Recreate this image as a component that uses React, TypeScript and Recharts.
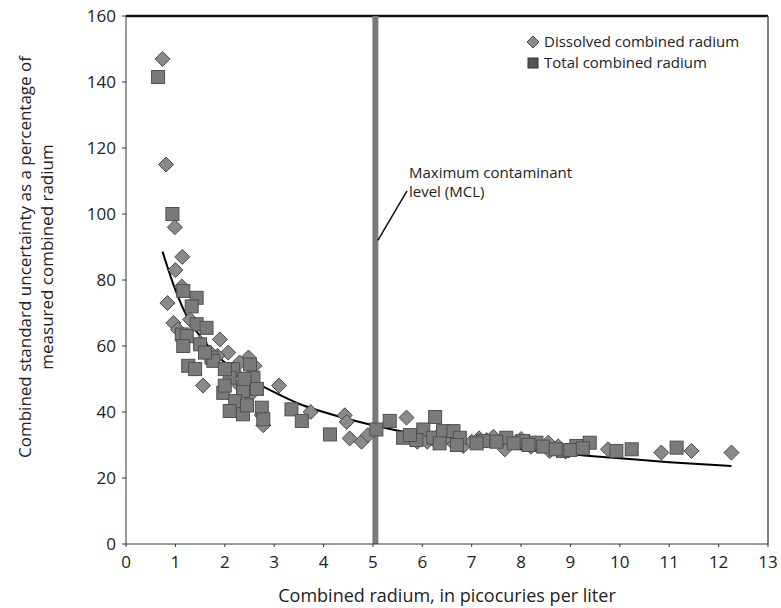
import React from 'react';
import {
  ComposedChart,
  Scatter,
  Line,
  XAxis,
  YAxis,
  ReferenceLine,
  ReferenceDot,
} from 'recharts';

// [combined radium pCi/L, uncertainty %]
const dissolvedPoints: [number, number][] = [
  [0.74, 147], [0.81, 115], [0.99, 96], [1.14, 87], [1.0, 83], [1.13, 78],
  [0.84, 73], [0.96, 67], [1.05, 65], [1.2, 62], [1.5, 61], [1.9, 62],
  [1.7, 58], [2.07, 58], [1.56, 48], [2.2, 52], [2.48, 56.5], [2.6, 54],
  [2.3, 48], [2.5, 45], [3.1, 48], [2.78, 36], [2.75, 39], [3.74, 40],
  [4.43, 39], [4.47, 37], [4.53, 32], [4.77, 31], [4.9, 33], [5.68, 38.3],
  [5.9, 31], [6.2, 32], [6.4, 34], [6.6, 31], [6.83, 29.7], [7.0, 31],
  [7.3, 31.5], [7.44, 32.5], [7.67, 28.7], [7.9, 31], [8.3, 30.5], [8.55, 30.7],
  [8.58, 28.2], [8.9, 28], [9.76, 28.7], [10.84, 27.7], [11.45, 28.2], [12.26, 27.7],
  [1.3, 68], [1.85, 57], [2.3, 55], [6.1, 31], [6.5, 32.5], [7.15, 32],
  [7.6, 31.5], [8.0, 31.8], [8.2, 29.5], [8.75, 29.6],
];

const totalPoints: [number, number][] = [
  [0.65, 141.5], [0.94, 100], [1.16, 76.7], [1.43, 74.6], [1.33, 72], [1.43, 66.6],
  [1.63, 65.5], [1.13, 63.5], [1.23, 63], [1.5, 60.5], [1.16, 60], [1.73, 56.5],
  [1.77, 55.5], [1.26, 54], [1.4, 53], [2.17, 53], [2.51, 54.4], [2.1, 50.4],
  [2.58, 50.4], [1.97, 45.8], [2.37, 46.4], [2.21, 43.3], [2.1, 40.3], [2.37, 39.3],
  [2.75, 41.3], [2.78, 37.8], [2.4, 50], [3.35, 40.8], [3.56, 37.3], [4.13, 33.2],
  [5.07, 34.7], [5.34, 37.3], [5.61, 32.2], [6.02, 34.7], [6.26, 38.5], [5.88, 31.5],
  [6.22, 32.2], [6.42, 34.2], [6.63, 34.2], [6.76, 32.2], [7.23, 31.2], [7.7, 32.2],
  [8.04, 31.2], [8.31, 30.7], [8.85, 28.2], [9.12, 29.7], [9.39, 30.7], [9.93, 28.2],
  [10.24, 28.7], [11.15, 29.2],
  [1.6, 58], [2.0, 48], [2.65, 47], [2.0, 53], [2.45, 42], [5.75, 33],
  [6.35, 30.5], [6.7, 30], [7.1, 30.5], [7.5, 31], [7.85, 30.5], [8.15, 30],
  [8.45, 29.5], [8.7, 28.7], [9.0, 28.5], [9.25, 29],
];

// trend curve
const fitPoints: [number, number][] = [
  [0.74, 88.6], [1, 77], [1.25, 68.5], [1.5, 63], [2, 55], [2.5, 50], [3, 46],
  [3.5, 42.5], [4, 40], [5, 36], [6, 33], [7, 30.5], [8, 28.7], [9, 27.2],
  [10, 26], [11, 24.8], [12.26, 23.6],
];

const xTicks = [0, 1, 2, 3, 4, 5, 6, 7, 8, 9, 10, 11, 12, 13];
const yTicks = [0, 20, 40, 60, 80, 100, 120, 140, 160];
const mclValue = 5.05;

const toRows = (pts: [number, number][]) => pts.map(([x, y]) => ({ x, y }));

const FONT = '"Open Sans", "Noto Sans", sans-serif';

const DiamondMark = (props: any) => {
  const { cx, cy } = props;
  const r = 7.5;
  return (
    <polygon
      points={`${cx},${cy - r} ${cx + r},${cy} ${cx},${cy + r} ${cx - r},${cy}`}
      fill='#8a8a8a'
      stroke='#4a4a4a'
      strokeWidth={1}
    />
  );
};

const SquareMark = (props: any) => {
  const { cx, cy } = props;
  return (
    <rect x={cx - 6.5} y={cy - 6.5} width={13} height={13} fill='#7a7a7a' stroke='#505050' strokeWidth={1} />
  );
};

const LegendBox = () => (
  <div
    style={{
      position: 'absolute',
      left: 526,
      top: 31,
      fontFamily: FONT,
      fontSize: 15,
      color: '#222',
      lineHeight: '21px',
    }}
  >
    <div style={{ display: 'flex', alignItems: 'center' }}>
      <svg width={14} height={14} style={{ marginRight: 4 }}>
        <polygon points='7,1 13,7 7,13 1,7' fill='#8a8a8a' stroke='#4a4a4a' />
      </svg>
      Dissolved combined radium
    </div>
    <div style={{ display: 'flex', alignItems: 'center' }}>
      <svg width={14} height={14} style={{ marginRight: 4 }}>
        <rect x={2} y={2} width={10} height={10} fill='#555' stroke='#333' />
      </svg>
      Total combined radium
    </div>
  </div>
);

const McLNote = (props: any) => {
  const { cx, cy } = props;
  return (
    <g>
      <text x={cx} y={cy} fontFamily={FONT} fontSize={15} fill='#222'>
        Maximum contaminant
      </text>
      <text x={cx} y={cy + 19} fontFamily={FONT} fontSize={15} fill='#222'>
        level (MCL)
      </text>
    </g>
  );
};

const YTitle = () => (
  <g>
    <text
      transform='translate(24,257) rotate(-90)'
      textAnchor='middle'
      dominantBaseline='central'
      fontFamily={FONT}
      fontSize={17}
      fill='#222'
    >
      Combined standard uncertainty as a percentage of
    </text>
    <text
      transform='translate(46,257) rotate(-90)'
      textAnchor='middle'
      dominantBaseline='central'
      fontFamily={FONT}
      fontSize={17}
      fill='#222'
    >
      measured combined radium
    </text>
  </g>
);

const App = () => {
  return (
    <div style={{ position: 'absolute', left: 0, top: 0, width: 781, height: 608, background: '#fff' }}>
      <ComposedChart
        width={781}
        height={608}
        margin={{ top: 16, right: 13, bottom: 0, left: 0 }}
      >
        <XAxis
          type='number'
          dataKey='x'
          domain={[0, 13]}
          ticks={xTicks}
          interval={0}
          height={64}
          stroke='#333'
          tickSize={3}
          tickMargin={9}
          tick={{ fontFamily: FONT, fontSize: 17, fill: '#222' }}
          label={{
            value: 'Combined radium, in picocuries per liter',
            position: 'insideBottom',
            offset: 6,
            style: { fontFamily: FONT, fontSize: 18, fill: '#222' },
          }}
        />
        <YAxis
          type='number'
          dataKey='y'
          domain={[0, 160]}
          ticks={yTicks}
          interval={0}
          width={126}
          stroke='#333'
          tickSize={4}
          tickMargin={6}
          tick={{ fontFamily: FONT, fontSize: 17, fill: '#222' }}
          label={{ content: () => <YTitle /> }}
        />
        <ReferenceLine y={160} stroke='#111' strokeWidth={2.5} />
        <ReferenceLine x={13} stroke='#555' strokeWidth={1.5} />
        <Scatter
          name='Dissolved combined radium'
          data={toRows(dissolvedPoints)}
          shape={DiamondMark}
          isAnimationActive={false}
        />
        <Scatter
          name='Total combined radium'
          data={toRows(totalPoints)}
          shape={SquareMark}
          isAnimationActive={false}
        />
        <Line
          data={toRows(fitPoints)}
          dataKey='y'
          type='monotone'
          stroke='#000'
          strokeWidth={2}
          dot={false}
          activeDot={false}
          isAnimationActive={false}
        />
        <ReferenceLine x={mclValue} stroke='#7a7a7a' strokeWidth={6} />
        <ReferenceLine
          segment={[
            { x: 5.1, y: 92 },
            { x: 5.69, y: 107 },
          ]}
          stroke='#111'
          strokeWidth={1.5}
        />
        <ReferenceDot x={5.73} y={111} r={0} shape={McLNote} />
      </ComposedChart>
      <LegendBox />
    </div>
  );
};

export default App;
